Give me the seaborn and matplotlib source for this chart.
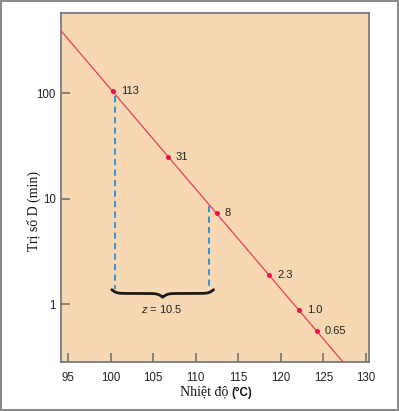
import numpy as np
import pandas as pd
import matplotlib
matplotlib.use("Agg")
import matplotlib.pyplot as plt
import matplotlib.patches as mpatches
from matplotlib.ticker import FixedLocator, FuncFormatter, NullLocator
import seaborn as sns

# ---- data ----
temps = [100.25, 106.7, 112.45, 118.6, 122.1, 124.2]          # °C
d_values = [105, 25, 7.26, 1.87, 0.88, 0.56]                   # min (plotted positions)
point_labels = ["113", "31", "8", "2.3", "1.0", "0.65"]
dash_temps = [100.56, 111.57]
dash_bottom = 1.39
z_label = "$z$ = 10.5"
x_ticks = [95, 100, 105, 110, 115, 120, 125, 130]
y_ticks = [1, 10, 100]
x_limits = (94.2, 130.4)
y_limits = (0.28, 574)

sns.set_style("ticks")
plt.rcParams["font.family"] = ["Liberation Sans", "DejaVu Sans"]
plt.rcParams["mathtext.fontset"] = "custom"
plt.rcParams["mathtext.it"] = "Liberation Sans:italic"
plt.rcParams["mathtext.rm"] = "Liberation Sans"

fig = plt.figure(figsize=(3.99, 4.11), dpi=100)
fig.patch.set_facecolor("white")
ax = fig.add_axes([61.3 / 399, 1 - 362.3 / 411, 308 / 399, 349 / 411])
ax.set_facecolor("#f8d8b2")
ax.set_yscale("log")
ax.set_xlim(*x_limits)
ax.set_ylim(*y_limits)

# fitted thermal death line across the axes
slope, intercept = np.polyfit(temps, np.log10(d_values), 1)
line_x = np.array(x_limits)
line_df = pd.DataFrame({"T": line_x, "D": 10 ** (intercept + slope * line_x)})
sns.lineplot(data=line_df, x="T", y="D", ax=ax, color="#ee3a62", lw=0.9, zorder=3)

pts = pd.DataFrame({"T": temps, "D": d_values})
sns.scatterplot(data=pts, x="T", y="D", ax=ax, color="#e8114a", marker="o",
                s=13, linewidth=0, zorder=4)
for t, d, lab in zip(temps, d_values, point_labels):
    ax.annotate(lab, (t, d), xytext=(6, 0), textcoords="offset points",
                ha="left", va="center", fontsize=8, color="#222222")

# dashed vertical guides
for t in dash_temps:
    top = 10 ** (intercept + slope * t)
    ax.plot([t, t], [top * 0.97, dash_bottom], color="#3193d6", lw=1.4,
            ls=(0, (3.2, 2.2)), zorder=2)

# curly brace under the guides
trans = ax.get_xaxis_transform()
xl, xr = 100.13, 112.1
n = 200
u = np.linspace(0, 0.5, n)
beta = 42
half = 1 / (1 + np.exp(-beta * (u - u[0]))) + 1 / (1 + np.exp(-beta * (u - u[-1])))
yb = np.concatenate([half, half[-2::-1]])
ub = np.linspace(0, 1, 2 * n - 1)
bx = xl + ub * (xr - xl)
by = 0.2080 - (yb - 0.5) * 0.0215
ax.plot(bx, by, color="#1a1a1a", lw=2.0, transform=trans, zorder=3,
        solid_capstyle="round")
ax.text(105.96, 0.1527, z_label, transform=trans, ha="center", va="center",
        fontsize=8, color="#222222")

# axes styling
ax.xaxis.set_major_locator(FixedLocator(x_ticks))
ax.yaxis.set_major_locator(FixedLocator(y_ticks))
ax.yaxis.set_minor_locator(NullLocator())
ax.yaxis.set_major_formatter(FuncFormatter(lambda v, p: f"{v:g}"))
ax.tick_params(axis="both", direction="in", length=6.5, width=1.1,
               color="#6e6862", labelsize=8.3, labelcolor="#222222")
ax.tick_params(axis="x", pad=7)
ax.tick_params(axis="y", pad=4)
for s in ax.spines.values():
    s.set_visible(True)
    s.set_color("#707070")
    s.set_linewidth(1.2)
ax.set_xlabel("")
ax.set_ylabel("")

fig.text(34 / 399, 1 - 211 / 411, "Trị số D (min)", rotation=90, ha="center",
         va="center", family="Liberation Serif", fontsize=10, color="#111111")
fig.text(228 / 399, 1 - 395.7 / 411, "Nhiệt độ", ha="right", va="baseline",
         family="Liberation Serif", fontsize=10, color="#111111")
fig.text(231 / 399, 1 - 395.7 / 411, "(°C)", ha="left", va="baseline",
         fontsize=8.3, fontweight="bold", color="#111111")

# outer grey frame
fig.patches.append(mpatches.Rectangle((0, 0), 1, 1, transform=fig.transFigure,
                                      fill=False, ec="#8a8a8a", lw=2.9))

fig.savefig("out.png", dpi=100)
